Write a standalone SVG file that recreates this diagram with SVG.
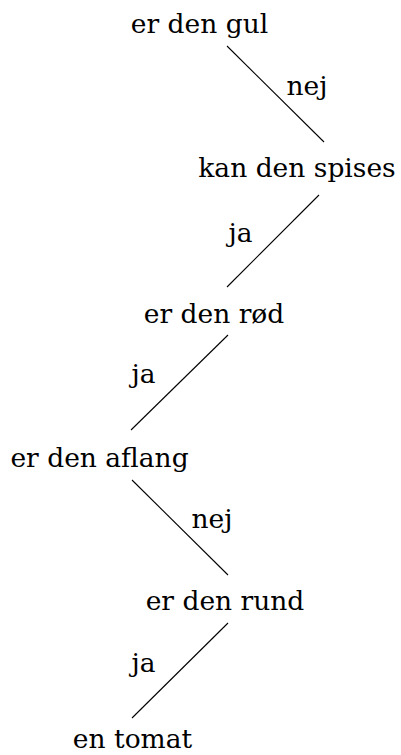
<svg xmlns="http://www.w3.org/2000/svg" width="401" height="755" viewBox="0 0 401 755">
<style>
.t{font-size:26.5px;fill:#000;text-anchor:middle;font-family:'DejaVu Serif',serif}
.e line{stroke:#000;stroke-width:1.1}
</style>
<rect width="401" height="755" fill="#fff"/>
<g class="e" id="connectors">
<line x1="227" y1="46" x2="324" y2="142"/>
<line x1="319" y1="195" x2="227" y2="287"/>
<line x1="228" y1="335" x2="131" y2="430"/>
<line x1="132" y1="480" x2="228" y2="575"/>
<line x1="228" y1="623" x2="132" y2="718"/>
<text class="t" x="307" y="95">nej</text>
<text class="t" x="240.5" y="242">ja</text>
<text class="t" x="143.5" y="383">ja</text>
<text class="t" x="212" y="528">nej</text>
<text class="t" x="143.5" y="672">ja</text>
</g>
<g>
<g id="n1"><text class="t" x="199.5" y="33">er den gul</text></g>
<g id="n2"><text class="t" x="297" y="177">kan den spises</text></g>
<g id="n3"><text class="t" x="214" y="323">er den rød</text></g>
<g id="n4"><text class="t" x="99.5" y="467">er den aflang</text></g>
<g id="n5"><text class="t" x="225" y="610">er den rund</text></g>
<g id="n6"><text class="t" x="132.5" y="748">en tomat</text></g>
</g>
</svg>
